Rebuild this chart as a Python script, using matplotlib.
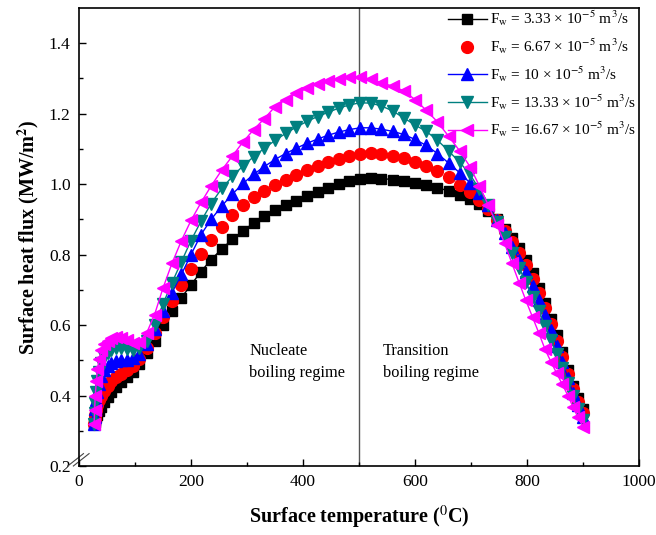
import matplotlib
matplotlib.use('Agg')
import matplotlib.pyplot as plt
from matplotlib.ticker import MultipleLocator

plt.rcParams['font.family'] = ['Liberation Serif', 'DejaVu Serif']
plt.rcParams['mathtext.fontset'] = 'stix'

# surface temperature (C), shared by all runs
temps = [27, 28, 29, 31, 33, 36, 40, 45, 51, 58, 66, 75, 85, 96, 108, 121, 135, 150,
         166, 183, 200, 218, 236, 255, 274, 293, 312, 331, 350, 369, 388, 407, 426,
         445, 464, 483, 502, 521, 540, 560, 580, 600, 620, 640, 660, 680, 698, 715,
         731, 746, 760, 773, 786, 798, 810, 821, 832, 843, 853, 863, 873, 882, 891, 900]

# surface heat flux (MW/m2) for each water flow rate
flux_333 = [0.320, 0.325, 0.330, 0.338, 0.346, 0.356, 0.368, 0.382, 0.396, 0.410, 0.424,
            0.438, 0.452, 0.468, 0.490, 0.520, 0.556, 0.600, 0.640, 0.678, 0.714, 0.752,
            0.786, 0.816, 0.844, 0.868, 0.890, 0.910, 0.926, 0.940, 0.953, 0.965, 0.977,
            0.989, 1.000, 1.009, 1.015, 1.017, 1.016, 1.013, 1.008, 1.002, 0.997, 0.990,
            0.981, 0.968, 0.957, 0.943, 0.925, 0.900, 0.872, 0.848, 0.818, 0.786, 0.748,
            0.705, 0.662, 0.618, 0.572, 0.524, 0.472, 0.428, 0.392, 0.362]
flux_667 = [0.320, 0.332, 0.344, 0.358, 0.372, 0.386, 0.400, 0.414, 0.428, 0.440, 0.452,
            0.462, 0.472, 0.484, 0.504, 0.535, 0.578, 0.622, 0.668, 0.714, 0.758, 0.802,
            0.842, 0.878, 0.912, 0.940, 0.963, 0.982, 0.998, 1.012, 1.026, 1.039, 1.051,
            1.062, 1.072, 1.080, 1.086, 1.088, 1.086, 1.081, 1.073, 1.063, 1.051, 1.037,
            1.020, 0.999, 0.978, 0.956, 0.930, 0.898, 0.866, 0.836, 0.804, 0.770, 0.732,
            0.692, 0.648, 0.602, 0.556, 0.508, 0.460, 0.418, 0.382, 0.350]
flux_10 = [0.320, 0.340, 0.362, 0.386, 0.410, 0.434, 0.455, 0.472, 0.484, 0.492, 0.497,
           0.500, 0.502, 0.506, 0.518, 0.545, 0.590, 0.640, 0.692, 0.744, 0.800, 0.857,
           0.900, 0.938, 0.972, 1.002, 1.028, 1.050, 1.070, 1.087, 1.102, 1.116, 1.128,
           1.139, 1.148, 1.155, 1.160, 1.160, 1.156, 1.150, 1.141, 1.127, 1.110, 1.087,
           1.060, 1.032, 1.004, 0.975, 0.940, 0.898, 0.860, 0.822, 0.786, 0.750, 0.712,
           0.672, 0.630, 0.586, 0.542, 0.496, 0.450, 0.408, 0.372, 0.340]
flux_1333 = [0.320, 0.350, 0.380, 0.410, 0.440, 0.468, 0.492, 0.510, 0.522, 0.530, 0.534,
             0.535, 0.533, 0.530, 0.535, 0.555, 0.600, 0.660, 0.720, 0.780, 0.840, 0.895,
             0.945, 0.988, 1.022, 1.052, 1.078, 1.102, 1.124, 1.144, 1.162, 1.178, 1.192,
             1.204, 1.216, 1.225, 1.231, 1.230, 1.222, 1.208, 1.188, 1.168, 1.150, 1.125,
             1.094, 1.062, 1.028, 0.985, 0.940, 0.893, 0.850, 0.805, 0.762, 0.722, 0.680,
             0.640, 0.598, 0.558, 0.518, 0.478, 0.436, 0.398, 0.362, 0.330]
flux_1667 = [0.320, 0.360, 0.400, 0.440, 0.475, 0.505, 0.530, 0.546, 0.556, 0.562, 0.565,
             0.563, 0.557, 0.550, 0.552, 0.578, 0.630, 0.705, 0.775, 0.840, 0.897, 0.948,
             0.995, 1.040, 1.080, 1.120, 1.155, 1.186, 1.220, 1.240, 1.258, 1.272, 1.284,
             1.293, 1.299, 1.303, 1.304, 1.298, 1.288, 1.278, 1.265, 1.240, 1.210, 1.177,
             1.136, 1.094, 1.050, 0.995, 0.940, 0.885, 0.832, 0.776, 0.720, 0.670, 0.622,
             0.578, 0.532, 0.495, 0.463, 0.432, 0.400, 0.368, 0.338, 0.312]

labels = [r'F$_{\rm w}$ = 3.33 × 10$^{-5}$ m$^{3}$/s',
          r'F$_{\rm w}$ = 6.67 × 10$^{-5}$ m$^{3}$/s',
          r'F$_{\rm w}$ = 10 × 10$^{-5}$ m$^{3}$/s',
          r'F$_{\rm w}$ = 13.33 × 10$^{-5}$ m$^{3}$/s',
          r'F$_{\rm w}$ = 16.67 × 10$^{-5}$ m$^{3}$/s']

fig = plt.figure(figsize=(6.56, 5.35), dpi=100)
ax = fig.add_axes([0.1204, 0.129, 0.8537, 0.856])

ax.axvline(500, color='#555555', lw=1, zorder=1)

ax.plot(temps, flux_333, color='black', marker='s', ms=7.5, lw=1, label=labels[0])
ax.plot(temps, flux_667, color='red', marker='o', ms=8.5, lw=0, label=labels[1])
ax.plot(temps, flux_10, color='blue', marker='^', ms=9, lw=1, label=labels[2])
ax.plot(temps, flux_1333, color='#008080', marker='v', ms=9, lw=1, label=labels[3])
ax.plot(temps, flux_1667, color='magenta', marker='<', ms=9, lw=1, label=labels[4],
        markeredgecolor='magenta')

ax.set_xlim(0, 1000)
ax.set_ylim(0.2, 1.5)
ax.xaxis.set_major_locator(MultipleLocator(200))
ax.xaxis.set_minor_locator(MultipleLocator(100))
ax.set_yticks([0.2, 0.4, 0.6, 0.8, 1.0, 1.2, 1.4])
ax.set_yticks([0.3, 0.5, 0.7, 0.9, 1.1, 1.3], minor=True)
ax.yaxis.set_major_formatter(plt.FuncFormatter(lambda v, p: '%.1f' % v))
ax.tick_params(which='both', direction='in', labelsize=12.5, width=1)
ax.tick_params(which='major', length=5, pad=6)
ax.tick_params(which='minor', length=3)
for s in ax.spines.values():
    s.set_linewidth(1.2)

# axis break marks at the bottom of the y axis
for dx in (-0.006, 0.004):
    ax.plot([dx - 0.014, dx + 0.014], [0.0, 0.027], transform=ax.transAxes,
            color='#444444', lw=0.8, clip_on=False)

ax.text(304, 0.495, 'Nucleate\nboiling regime', fontsize=11.8, linespacing=1.45, va='center')
ax.text(543, 0.495, 'Transition\nboiling regime', fontsize=11.8, linespacing=1.45, va='center')

ax.set_xlabel(r'Surface temperature ($^{\rm 0}$C)', fontsize=14.5, fontweight='bold', labelpad=10)
ax.set_ylabel(r'Surface heat flux (MW/m$^{\mathbf{2}}$)', fontsize=14.5, fontweight='bold', labelpad=6)

ax.legend(loc='upper right', bbox_to_anchor=(1.0, 1.005), frameon=False, fontsize=11,
          handlelength=2.5, borderaxespad=0.0, borderpad=0.2, labelspacing=0.55,
          handletextpad=0.2)

fig.savefig('out.png', dpi=100)
